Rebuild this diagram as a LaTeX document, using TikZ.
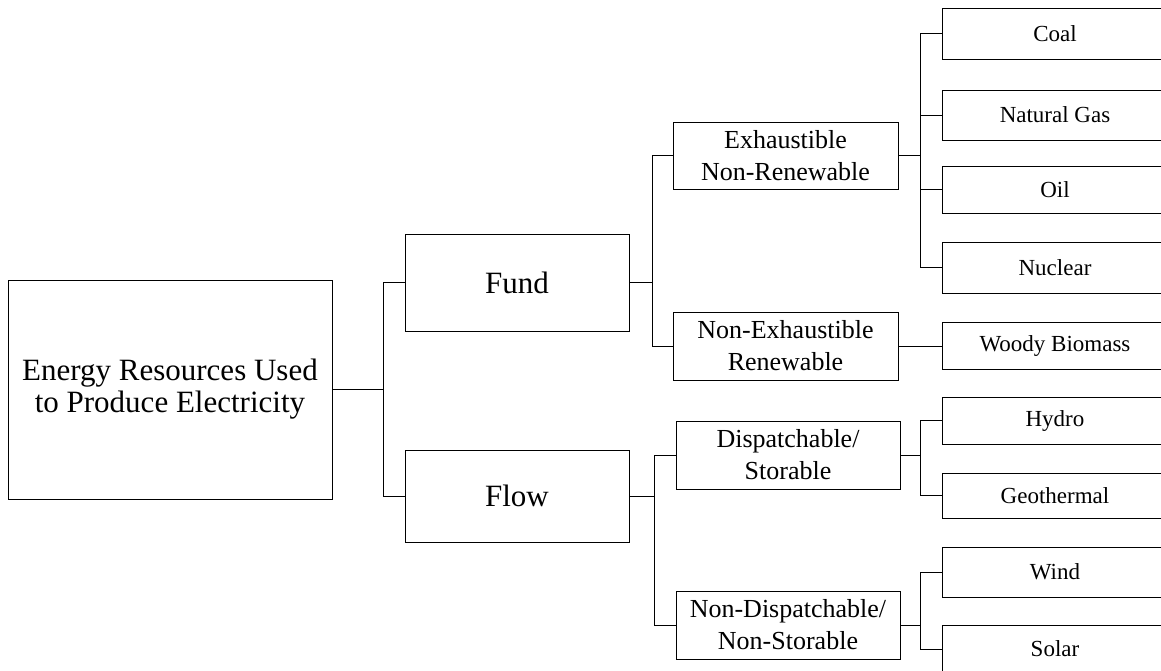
\documentclass[tikz,border=0pt]{standalone}
\usepackage{fontspec}
\setmainfont{Liberation Serif}
\usetikzlibrary{positioning}

\begin{document}
\begin{tikzpicture}[x=1pt,y=-1pt,line width=0.7pt,align=center,
        box/.style={draw,inner sep=0pt},
        topbox/.style={box,font=\fontsize{31}{32}\selectfont},
        midbox/.style={box,minimum width=225pt,minimum height=68pt,font=\fontsize{26}{32}\selectfont},
        leafbox/.style={box,minimum width=226pt,font=\fontsize{23}{26}\selectfont}]
        \useasboundingbox (0,0) rectangle (1161,670);

        \node[topbox,minimum width=324pt,minimum height=219pt] (res) at (170,389.5) {Energy Resources Used\\to Produce Electricity};
        \node[topbox,minimum width=224pt,minimum height=97pt] (fund) at (517,282.5) {Fund};
        \node[topbox,minimum width=224pt,minimum height=92pt] (flow) at (517,496) {Flow};

        \node[midbox,minimum height=67pt] (exh) at (785.5,155.5) {Exhaustible\\Non-Renewable};
        \node[midbox] (nonexh) at (785.5,346) {Non-Exhaustible\\Renewable};
        \node[midbox,minimum width=224pt] (disp) at (788,455) {Dispatchable/\\Storable};
        \node[midbox,minimum width=224pt] (nondisp) at (788,625) {Non-Dispatchable/\\Non-Storable};

        \node[leafbox,minimum height=51pt] (coal) at (1055,33.5) {Coal};
        \node[leafbox,minimum height=50pt] (gas) at (1055,115) {Natural Gas};
        \node[leafbox,minimum height=47pt] (oil) at (1055,189.5) {Oil};
        \node[leafbox,minimum height=51pt] (nuclear) at (1055,267.5) {Nuclear};
        \node[leafbox,minimum height=47pt] (woody) at (1055,346) {Woody Biomass};
        \node[leafbox,minimum height=47pt] (hydro) at (1055,420.5) {Hydro};
        \node[leafbox,minimum height=45pt] (geo) at (1055,495.5) {Geothermal};
        \node[leafbox,minimum height=50pt] (wind) at (1055,572) {Wind};
        \node[leafbox,minimum height=48pt] (solar) at (1055,649) {Solar};

        \draw (res.east) -- ++(51,0) coordinate (b1) |- (fund.west);
        \draw (b1) |- (flow.west);
        \draw (fund.east) -- ++(23,0) coordinate (b2) |- (exh.west);
        \draw (b2) |- (nonexh.west);
        \draw (flow.east) -- ++(25,0) coordinate (b3) |- (disp.west);
        \draw (b3) |- (nondisp.west);
        \draw (exh.east) -- ++(22,0) coordinate (b4);
        \foreach \leaf in {coal,gas,oil,nuclear}
            \draw (b4) |- (\leaf.west);
        \draw (nonexh.east) -- (woody.west);
        \draw (disp.east) -- ++(20,0) coordinate (b5) |- (hydro.west);
        \draw (b5) |- (geo.west);
        \draw (nondisp.east) -- ++(20,0) coordinate (b6) |- (wind.west);
        \draw (b6) |- (solar.west);
\end{tikzpicture}
\end{document}
